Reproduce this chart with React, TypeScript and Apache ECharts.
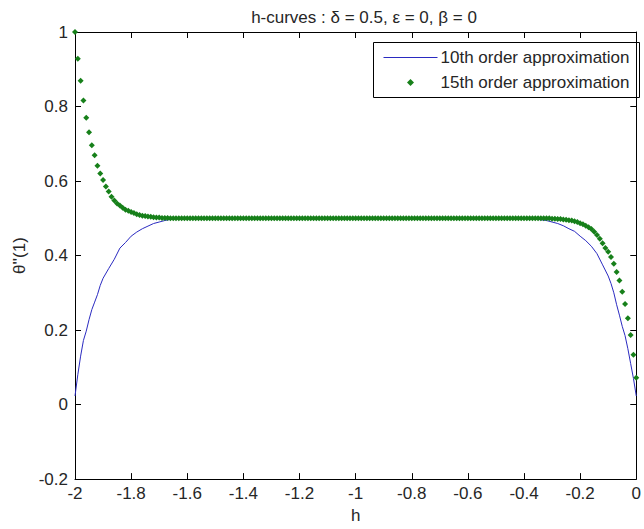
import React, { useEffect, useRef } from "react";
import * as echarts from "echarts";

const TITLE = "h-curves : δ = 0.5, ε = 0, β = 0";
const X_NAME = "h";
const Y_NAME = "θ''(1)";
const SERIES_NAMES = ["10th order approximation", "15th order approximation"];

// 10th order approximation (solid blue line)
const blueH = [
  -2, -1.99, -1.98, -1.97, -1.96, -1.95, -1.94, -1.93, -1.92, -1.91, -1.9,
  -1.88, -1.86, -1.84, -1.82, -1.8, -1.78, -1.76, -1.74, -1.72, -1.7, -1.68,
  -1.66, -1.64, -1.62, -1.6, -1.0, -0.4, -0.38, -0.36, -0.34, -0.32, -0.3,
  -0.28, -0.26, -0.24, -0.22, -0.2, -0.18, -0.16, -0.14, -0.12, -0.1, -0.09,
  -0.08, -0.07, -0.06, -0.05, -0.04, -0.03, -0.02, -0.01, 0,
];
const blueV = [
  0.023, 0.08, 0.13, 0.172, 0.197, 0.228, 0.255, 0.275, 0.295, 0.32, 0.339,
  0.365, 0.39, 0.42, 0.435, 0.452, 0.463, 0.472, 0.479, 0.486, 0.49, 0.494,
  0.497, 0.499, 0.5, 0.5, 0.5, 0.5, 0.499, 0.498, 0.496, 0.494, 0.49,
  0.486, 0.48, 0.472, 0.465, 0.452, 0.44, 0.425, 0.405, 0.375, 0.345, 0.325,
  0.3, 0.268, 0.24, 0.21, 0.185, 0.15, 0.11, 0.07, 0.023,
];

// 15th order approximation (green markers), sampled at h = -2, -1.99, ..., 0
const greenStart = -2;
const greenStep = 0.01;
const greenV = [
  1.0, 0.928, 0.869, 0.816, 0.77, 0.731, 0.696, 0.669, 0.641, 0.62,
  0.603, 0.585, 0.572, 0.558, 0.548, 0.54, 0.534, 0.528, 0.523, 0.52,
  0.517, 0.514, 0.511, 0.509, 0.507, 0.506, 0.505, 0.504, 0.503, 0.502,
  0.502, 0.501, 0.501, 0.501,
  0.5, 0.5, 0.5, 0.5, 0.5, 0.5, 0.5, 0.5, 0.5, 0.5, 0.5, 0.5, 0.5, 0.5, 0.5, 0.5, 0.5,
  0.5, 0.5, 0.5, 0.5, 0.5, 0.5, 0.5, 0.5, 0.5, 0.5, 0.5, 0.5, 0.5, 0.5, 0.5, 0.5, 0.5,
  0.5, 0.5, 0.5, 0.5, 0.5, 0.5, 0.5, 0.5, 0.5, 0.5, 0.5, 0.5, 0.5, 0.5, 0.5, 0.5, 0.5,
  0.5, 0.5, 0.5, 0.5, 0.5, 0.5, 0.5, 0.5, 0.5, 0.5, 0.5, 0.5, 0.5, 0.5, 0.5, 0.5, 0.5,
  0.5, 0.5, 0.5, 0.5, 0.5, 0.5, 0.5, 0.5, 0.5, 0.5, 0.5, 0.5, 0.5, 0.5, 0.5, 0.5, 0.5,
  0.5, 0.5, 0.5, 0.5, 0.5, 0.5, 0.5, 0.5, 0.5, 0.5, 0.5, 0.5, 0.5, 0.5, 0.5, 0.5, 0.5,
  0.5, 0.5, 0.5, 0.5, 0.5, 0.5, 0.5, 0.5, 0.5, 0.5, 0.5, 0.5, 0.5, 0.5, 0.5, 0.5, 0.5,
  0.5, 0.5, 0.5, 0.5, 0.5, 0.5, 0.5, 0.5, 0.5, 0.5, 0.5, 0.5, 0.5, 0.5, 0.5, 0.5, 0.5,
  0.499, 0.499, 0.498, 0.498, 0.497, 0.496, 0.495, 0.494, 0.492, 0.49,
  0.487, 0.484, 0.48, 0.476, 0.471, 0.464, 0.455, 0.445, 0.433, 0.42,
  0.41, 0.396, 0.378, 0.356, 0.333, 0.303, 0.27, 0.232, 0.187, 0.134,
  0.072,
];

const X_MIN = -2;
const X_MAX = 0;
const X_STEP = 0.2;
const Y_MIN = -0.2;
const Y_MAX = 1;
const Y_STEP = 0.2;

const FONT = "'Liberation Sans', Arial, Helvetica, sans-serif";
const FS = 17;
const TXT = "#262626";
const BLUE = "#2a2ac0";
const GREEN = "#17801a";

export default function App() {
  const ref = useRef<HTMLDivElement>(null);
  useEffect(() => {
    if (!ref.current) return;
    const chart = echarts.init(ref.current, undefined, { renderer: "svg" });
    const blueData = blueH.map((h, i) => [h, blueV[i]]);
    const greenData = greenV.map((v, i) => [
      Math.round((greenStart + i * greenStep) * 100) / 100,
      v,
    ]);
    const tick = { show: true, inside: true, length: 6, lineStyle: { color: "#000" } };
    const line = { show: true, onZero: false, lineStyle: { color: "#000", width: 1 } };
    const label = { color: TXT, fontSize: FS, fontFamily: FONT };
    const legendText = (text: string, y: number) => ({
      type: "text",
      x: 67,
      y,
      style: { text, fontSize: FS, fontFamily: FONT, fill: TXT, verticalAlign: "middle" },
    });
    chart.setOption({
      animation: false,
      backgroundColor: "#fff",
      title: {
        text: TITLE,
        left: 359,
        top: 4,
        textAlign: "center",
        textStyle: { fontSize: FS, fontWeight: "normal", color: TXT, fontFamily: FONT },
      },
      grid: { left: 75, right: 1, top: 32, bottom: 47 },
      graphic: [
        {
          type: "group",
          left: 373,
          top: 42,
          children: [
            {
              type: "rect",
              shape: { x: 0, y: 0, width: 266, height: 55 },
              style: { fill: "#fff", stroke: "#000", lineWidth: 1 },
            },
            {
              type: "line",
              shape: { x1: 10, y1: 15, x2: 64, y2: 15 },
              style: { stroke: BLUE, lineWidth: 1 },
            },
            {
              type: "polygon",
              shape: { points: [[37, 36.5], [40.5, 40], [37, 43.5], [33.5, 40]] },
              style: { fill: GREEN },
            },
            legendText(SERIES_NAMES[0], 15),
            legendText(SERIES_NAMES[1], 40),
          ],
        },
      ],
      xAxis: [
        {
          type: "value",
          min: X_MIN,
          max: X_MAX,
          interval: X_STEP,
          name: X_NAME,
          nameLocation: "middle",
          nameGap: 25,
          nameTextStyle: { fontSize: FS, color: TXT, fontFamily: FONT },
          axisLine: line,
          axisTick: tick,
          axisLabel: { ...label, margin: 6 },
          splitLine: { show: false },
        },
        {
          type: "value",
          position: "top",
          min: X_MIN,
          max: X_MAX,
          interval: X_STEP,
          axisLine: line,
          axisTick: tick,
          axisLabel: { show: false },
          splitLine: { show: false },
        },
      ],
      yAxis: [
        {
          type: "value",
          min: Y_MIN,
          max: Y_MAX,
          interval: Y_STEP,
          name: Y_NAME,
          nameLocation: "middle",
          nameGap: 43,
          nameRotate: 90,
          nameTextStyle: { fontSize: FS, color: TXT, fontFamily: FONT },
          axisLine: line,
          axisTick: tick,
          axisLabel: { ...label, margin: 7 },
          splitLine: { show: false },
        },
        {
          type: "value",
          position: "right",
          min: Y_MIN,
          max: Y_MAX,
          interval: Y_STEP,
          axisLine: line,
          axisTick: tick,
          axisLabel: { show: false },
          splitLine: { show: false },
        },
      ],
      series: [
        {
          name: SERIES_NAMES[0],
          type: "line",
          data: blueData,
          symbol: "none",
          lineStyle: { color: BLUE, width: 1 },
          itemStyle: { color: BLUE },
          z: 2,
        },
        {
          name: SERIES_NAMES[1],
          type: "scatter",
          data: greenData,
          symbol: "diamond",
          symbolSize: 6,
          itemStyle: { color: GREEN, opacity: 1 },
          z: 3,
        },
      ],
    });
    return () => chart.dispose();
  }, []);
  return (
    <div
      ref={ref}
      style={{ position: "fixed", left: 0, top: 0, width: 644, height: 529, background: "#fff" }}
    />
  );
}
